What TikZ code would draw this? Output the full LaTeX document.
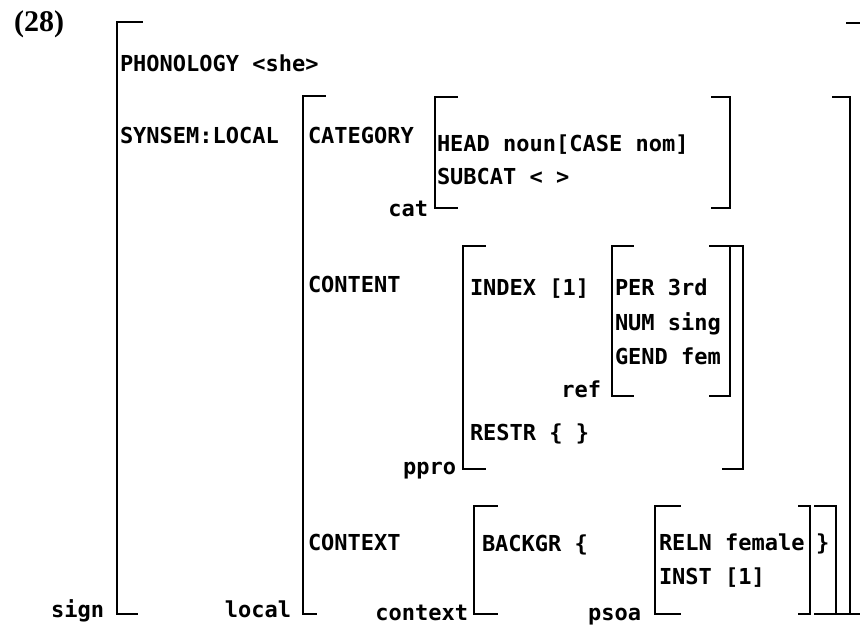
\documentclass[tikz,border=0pt]{standalone}
\usepackage{fontspec}
\newfontfamily\avmfont{DejaVu Sans Mono}
\newfontfamily\numfont{Liberation Serif}
\tikzset{
  br/.style={line width=1.7pt, line cap=rect},
  lbl/.style={font=\avmfont\bfseries\fontsize{22}{26}\selectfont, inner sep=0pt, outer sep=0pt, anchor=base west},
  typ/.style={font=\avmfont\bfseries\fontsize{22}{26}\selectfont, inner sep=0pt, outer sep=0pt, anchor=base east},
}
\begin{document}
\begin{tikzpicture}[x=1pt,y=-1pt]
\useasboundingbox (0,0) rectangle (860,630);
% example number
\node[inner sep=0pt, anchor=base west, font=\numfont\bfseries\fontsize{30}{34}\selectfont] (num) at (14,31) {(28)};
% sign
\draw[br] (142,22) -| (117,614) -- (137,614);
\draw[br] (847,23) -- (860,23);
\draw[br] (850,614) -- (860,614);
\node[typ] (tsign) at (104,617) {sign};
\node[lbl] (phon) at (120,71) {PHONOLOGY <she>};
\node[lbl] (synsem) at (120,143) {SYNSEM:LOCAL};
% local
\draw[br] (325,96) -| (303,614) -- (316,614);
\draw[br] (833,97) -| (850,614) -- (838,614);
\node[typ] (tlocal) at (291,617) {local};
\node[lbl] (cat) at (308,143) {CATEGORY};
\node[lbl] (cont) at (308,292) {CONTENT};
\node[lbl] (ctxt) at (308,550) {CONTEXT};
% cat
\draw[br] (457,97) -| (435,208) -- (457,208);
\draw[br] (712,97) -| (730,208) -- (712,208);
\node[typ] (tcat) at (428,216) {cat};
\node[lbl] (head) at (437,151) {HEAD noun[CASE nom]};
\node[lbl] (subcat) at (437,184) {SUBCAT < >};
% ppro
\draw[br] (485,246) -| (463,469) -- (485,469);
\draw[br] (723,246) -| (743,469) -- (723,469);
\node[typ] (tppro) at (456,474) {ppro};
\node[lbl] (index) at (470,295) {INDEX [1]};
\node[lbl] (restr) at (470,440) {RESTR \{ \}};
% ref
\draw[br] (633,246) -| (612,396) -- (633,396);
\draw[br] (710,246) -| (730,396) -- (710,396);
\node[typ] (tref) at (601,397) {ref};
\node[lbl] (per) at (615,295) {PER 3rd};
\node[lbl] (numb) at (615,330) {NUM sing};
\node[lbl] (gend) at (615,364) {GEND fem};
% context
\draw[br] (497,506) -| (474,614) -- (497,614);
\draw[br] (815,506) -| (836,614) -- (815,614);
\node[typ] (tcontext) at (468,620) {context};
\node[lbl] (backgr) at (482,551) {BACKGR \{};
% psoa
\draw[br] (680,506) -| (655,614) -- (680,614);
\draw[br] (799,506) -| (810,614) -- (799,614);
\node[typ] (tpsoa) at (641,620) {psoa};
\node[lbl] (reln) at (659,550) {RELN female};
\node[lbl] (inst) at (659,584) {INST [1]};
\node[lbl] (close) at (816,550) {\}};
\end{tikzpicture}
\end{document}
